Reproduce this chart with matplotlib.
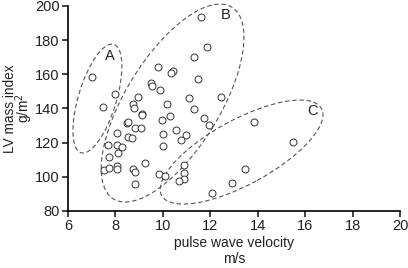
import matplotlib
matplotlib.use("Agg")
import matplotlib.pyplot as plt
from matplotlib.patches import Ellipse
from matplotlib.transforms import Affine2D

plt.rcParams['font.family'] = ['Liberation Sans', 'DejaVu Sans']

# --- DATA ---
pwv = [7.0, 7.47, 7.97,
       8.95, 8.76, 8.78, 9.1, 9.1, 8.48, 8.52, 8.82, 9.07, 8.06, 8.52, 8.68,
       7.68, 8.05, 8.28, 8.11, 7.71, 7.5, 7.73, 8.05, 8.05, 8.75, 8.82, 9.24, 8.82,
       9.78, 10.43, 10.35, 9.52, 9.55, 9.88, 10.16, 9.96, 10.28, 10.55,
       11.61, 11.87, 11.32, 11.47, 11.12, 11.33, 12.45, 11.74, 11.96,
       9.99, 10.98, 10.78, 10.0,
       9.85, 10.09, 10.89, 10.88, 10.9, 10.69, 12.08, 12.93,
       13.84, 15.49, 13.47]
lvmi = [158.5, 140.8, 148.7,
        146.8, 142.5, 140.5, 137.0, 136.0, 131.5, 132.3, 128.5, 128.6, 125.5, 123.3, 123.0,
        118.4, 118.6, 117.6, 114.0, 111.8, 104.2, 105.3, 106.6, 104.7, 104.3, 102.6, 108.1, 96.0,
        164.3, 162.0, 160.7, 155.1, 153.0, 150.6, 142.6, 133.5, 135.6, 127.6,
        193.5, 176.0, 170.3, 157.1, 146.0, 139.8, 146.9, 134.4, 130.5,
        125.0, 124.5, 121.5, 118.1,
        101.5, 100.3, 106.7, 102.0, 99.0, 97.3, 90.8, 96.5,
        132.3, 120.6, 104.4]

group_names = ['A', 'B', 'C']
label_pos = [(7.77, 171.0), (12.66, 195.0), (16.33, 138.5)]
# ellipse outlines: centre (data), semi-axes in screen pixels, tilt in degrees
ell_centres = [(7.24, 145.8), (10.41, 143.2), (13.32, 114.5)]
ell_axes = [(56.6, 19.0), (112.7, 46.9), (91.0, 32.4)]
ell_angles = [73.2, 58.3, 28.6]

fig = plt.figure(figsize=(4.08, 2.68), dpi=100)
ax = fig.add_axes([0.1667, 0.2127, 0.8137, 0.765])

ax.plot(pwv, lvmi, linestyle='none', marker='o', markersize=5,
        markerfacecolor='white', markeredgecolor='#333333', markeredgewidth=0.7,
        zorder=3)

ax.set_xlim(6, 20)
ax.set_ylim(80, 200)
ax.set_xticks(range(6, 21, 2))
ax.set_yticks(range(80, 201, 20))

# pixels per data unit, used so the ellipses keep their screen shape
bbox = ax.get_position()
sx = bbox.width * fig.get_figwidth() * fig.dpi / 14.0
sy = bbox.height * fig.get_figheight() * fig.dpi / 120.0

for (cx, cy), (a, b), ang in zip(ell_centres, ell_axes, ell_angles):
    tr = Affine2D().scale(1 / sx, 1 / sy).translate(cx, cy) + ax.transData
    e = Ellipse((0, 0), 2 * a, 2 * b, angle=ang, fill=False,
                edgecolor='#555555', linewidth=0.8, linestyle=(0, (4, 2.5)),
                transform=tr, clip_on=False)
    ax.add_patch(e)

for name, (x, y) in zip(group_names, label_pos):
    ax.text(x, y, name, fontsize=10.5, ha='center', va='center', color='#222222')

for side in ['top', 'right']:
    ax.spines[side].set_visible(False)
for side in ['left', 'bottom']:
    ax.spines[side].set_linewidth(1.2)
ax.tick_params(direction='out', length=4, width=1.2, labelsize=10.5, pad=2,
               colors='#222222')

ax.set_xlabel('pulse wave velocity\nm/s', fontsize=10, labelpad=2,
              linespacing=1.15, color='#222222')
ax.set_ylabel('LV mass index\ng/m$^2$', fontsize=9.8, linespacing=0.8,
              color='#222222')
ax.yaxis.set_label_coords(-0.098, 0.5)

fig.savefig('out.png', dpi=100)
